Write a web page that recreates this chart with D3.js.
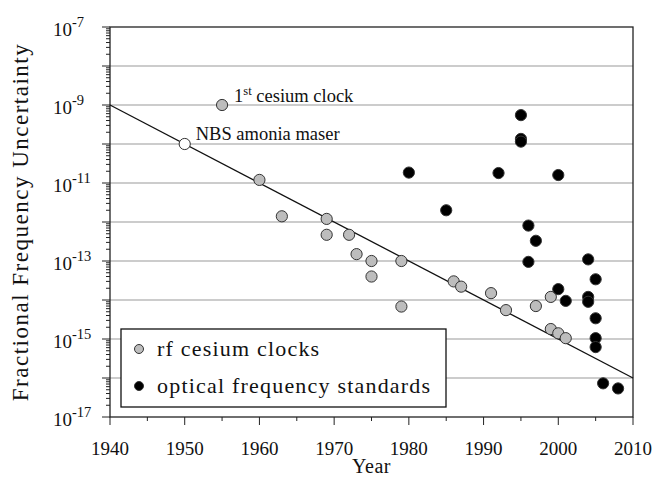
<!DOCTYPE html>
<html>
<head>
<meta charset="utf-8">
<script src="https://cdn.jsdelivr.net/npm/d3@7"></script>
<style>
  body { margin: 0; background: #fff; }
  svg { font-family: "Liberation Serif", "DejaVu Serif", serif; }
</style>
</head>
<body>
<svg id="chart"></svg>
<script>
// Data
const rfYears = [1955, 1960, 1963, 1969, 1969, 1972, 1973, 1975, 1975, 1979, 1979, 1986, 1987, 1991, 1993, 1997, 1999, 1999, 2000, 2001];
const rfValues = [1e-9, 1.2e-11, 1.4e-12, 1.2e-12, 4.7e-13, 4.7e-13, 1.5e-13, 1.0e-13, 4.0e-14, 1.0e-13, 6.8e-15, 3.0e-14, 2.2e-14, 1.5e-14, 5.5e-15, 7e-15, 1.2e-14, 1.8e-15, 1.4e-15, 1.05e-15];

const optYears = [1980, 1985, 1992, 1995, 1995, 1995, 1996, 1996, 1997, 2000, 2000, 2001, 2004, 2004, 2004, 2005, 2005, 2005, 2005, 2006, 2008];
const optValues = [1.85e-11, 2e-12, 1.8e-11, 5.5e-10, 1.35e-10, 1.15e-10, 8.1e-13, 9.5e-14, 3.3e-13, 1.6e-11, 1.9e-14, 9.5e-15, 1.1e-13, 1.2e-14, 9e-15, 3.4e-14, 3.4e-15, 1.05e-15, 6.2e-16, 7.3e-17, 5.4e-17];

const maserYear = [1950];
const maserValue = [1e-10];

const trendYears = [1940, 2010];
const trendValues = [1e-9, 1e-16];

const xTicks = [1940, 1950, 1960, 1970, 1980, 1990, 2000, 2010];
const yLabelExps = [-7, -9, -11, -13, -15, -17];

const W = 655, H = 477;
const margin = { left: 110, right: 22, top: 27, bottom: 60 };

const svg = d3.select("#chart").attr("width", W).attr("height", H);

const x = d3.scaleLinear().domain([1940, 2010]).range([margin.left, W - margin.right]);
const y = d3.scaleLog().domain([1e-17, 1e-7]).range([H - margin.bottom, margin.top]);

const x0 = x.range()[0], x1 = x.range()[1];
const y0 = y.range()[0], y1 = y.range()[1];

// Gridlines at each decade
const decades = d3.range(-16, -7).map(e => Math.pow(10, e));
svg.append("g")
    .selectAll("line")
    .data(decades)
    .join("line")
    .attr("x1", x0).attr("x2", x1)
    .attr("y1", d => y(d)).attr("y2", d => y(d))
    .attr("stroke", "#9a9a9a")
    .attr("stroke-width", 1.2);

// Y ticks (major + log minor), outward
const yTickVals = [];
for (let e = -17; e < -7; e++) {
    for (let m = 1; m < 10; m++) yTickVals.push({ v: m * Math.pow(10, e), major: m === 1 });
}
yTickVals.push({ v: 1e-7, major: true });
svg.append("g")
    .selectAll("line")
    .data(yTickVals)
    .join("line")
    .attr("x1", d => x0 - (d.major ? 8 : 4)).attr("x2", x0)
    .attr("y1", d => y(d.v)).attr("y2", d => y(d.v))
    .attr("stroke", "#222")
    .attr("stroke-width", 1);

// X ticks, major every 10, minor every 5
const xTickVals = d3.range(1940, 2011, 5);
svg.append("g")
    .selectAll("line")
    .data(xTickVals)
    .join("line")
    .attr("x1", d => x(d)).attr("x2", d => x(d))
    .attr("y1", y0).attr("y2", d => y0 + (d % 10 === 0 ? 8 : 4))
    .attr("stroke", "#222")
    .attr("stroke-width", 1);

// Frame
svg.append("rect")
    .attr("x", x0).attr("y", y1)
    .attr("width", x1 - x0).attr("height", y0 - y1)
    .attr("fill", "none")
    .attr("stroke", "#222")
    .attr("stroke-width", 1.3);

// Tick labels
svg.append("g")
    .selectAll("text")
    .data(xTicks)
    .join("text")
    .attr("x", d => x(d))
    .attr("y", y0 + 38)
    .attr("text-anchor", "middle")
    .attr("font-size", 19)
    .attr("fill", "#111")
    .text(d => d);

const yl = svg.append("g")
    .selectAll("text")
    .data(yLabelExps)
    .join("text")
    .attr("x", 53)
    .attr("y", d => y(Math.pow(10, d)) + 9)
    .attr("font-size", 19)
    .attr("fill", "#111");
yl.append("tspan").text("10");
yl.append("tspan").attr("dy", -9).attr("font-size", 14.5).text(d => "-" + Math.abs(d));

// Axis titles
svg.append("text")
    .attr("x", (x0 + x1) / 2)
    .attr("y", H - 4)
    .attr("text-anchor", "middle")
    .attr("font-size", 20)
    .attr("letter-spacing", 0.5)
    .attr("fill", "#111")
    .text("Year");

svg.append("text")
    .attr("transform", `translate(28, ${(y0 + y1) / 2}) rotate(-90)`)
    .attr("text-anchor", "middle")
    .attr("font-size", 23)
    .attr("letter-spacing", 1.5)
    .attr("fill", "#111")
    .text("Fractional Frequency Uncertainty");

// Trend line
svg.append("path")
    .datum(trendYears.map((d, i) => [d, trendValues[i]]))
    .attr("d", d3.line().x(d => x(d[0])).y(d => y(d[1])))
    .attr("fill", "none")
    .attr("stroke", "#111")
    .attr("stroke-width", 1.3);

// Points
function dots(years, values, fill) {
    svg.append("g")
        .selectAll("circle")
        .data(years.map((d, i) => [d, values[i]]))
        .join("circle")
        .attr("cx", d => x(d[0]))
        .attr("cy", d => y(d[1]))
        .attr("r", 5.6)
        .attr("fill", fill)
        .attr("stroke", "#333")
        .attr("stroke-width", 1);
}
dots(rfYears, rfValues, "#bdbdbd");
dots(maserYear, maserValue, "#fff");
dots(optYears, optValues, "#000");

// Annotations
const ann1 = svg.append("text")
    .attr("x", x(1955) + 12)
    .attr("y", y(1e-9) - 3)
    .attr("font-size", 18.5)
    .attr("fill", "#111");
ann1.append("tspan").text("1");
ann1.append("tspan").attr("dy", -7).attr("font-size", 12.5).text("st");
ann1.append("tspan").attr("dy", 7).text(" cesium clock");

svg.append("text")
    .attr("x", x(1950) + 11)
    .attr("y", y(1e-10) - 4)
    .attr("font-size", 18.5)
    .attr("fill", "#111")
    .text("NBS amonia maser");

// Legend
const lg = svg.append("g").attr("transform", "translate(121, 329)");
lg.append("rect")
    .attr("width", 325).attr("height", 78)
    .attr("fill", "#fff")
    .attr("stroke", "#111")
    .attr("stroke-width", 1.3);
const legendItems = [["rf cesium clocks", "#bdbdbd"], ["optical frequency standards", "#000"]];
legendItems.forEach((d, i) => {
    lg.append("circle")
        .attr("cx", 18).attr("cy", 20 + i * 37)
        .attr("r", 4.5)
        .attr("fill", d[1])
        .attr("stroke", "#333");
    lg.append("text")
        .attr("x", 36).attr("y", 27 + i * 37)
        .attr("font-size", 22)
        .attr("letter-spacing", 1.2)
        .attr("fill", "#111")
        .text(d[0]);
});
</script>
</body>
</html>
